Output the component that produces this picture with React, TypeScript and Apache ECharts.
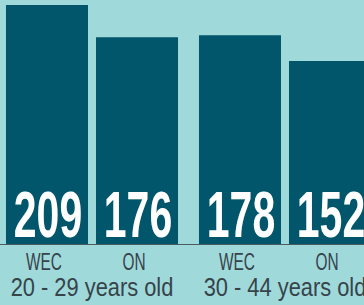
import React, { useEffect, useRef } from "react";
import * as echarts from "echarts";

const groups = ["20 - 29 years old", "30 - 44 years old"];
const subLabels = ["WEC", "ON"];
const wecValues = [209, 178];
const onValues = [176, 152];

const Y_MIN = -34.4;
const Y_MAX = 214;
const BAR_FRAC = 0.425;
const OFFSET_FRAC = 0.2332;
const FONT = '"Liberation Sans", Arial, sans-serif';
const BAR_COLOR = "#01566c";
const TEXT_COLOR = "#36434b";

function makeRender(sub: string, dir: number, withGroup: boolean) {
  return (params: any, api: any) => {
    const cat = api.value(0);
    const v = api.value(1);
    const base = api.coord([cat, Y_MIN]);
    const top = api.coord([cat, v]);
    const band = api.size([1, 0])[0];
    const barW = band * BAR_FRAC;
    const cx = base[0] + dir * OFFSET_FRAC * band;
    const children: any[] = [
      {
        type: "rect",
        shape: { x: cx - barW / 2, y: top[1], width: barW, height: base[1] - top[1] },
        style: { fill: BAR_COLOR },
      },
      {
        type: "text",
        x: cx + 1,
        y: base[1] - 29.4,
        scaleX: 0.64,
        style: {
          text: String(v),
          fill: "#ffffff",
          font: `bold 64px ${FONT}`,
          align: "center",
          verticalAlign: "middle",
        },
      },
      {
        type: "text",
        x: cx - 3,
        y: base[1] + 17.5,
        scaleX: 0.67,
        style: {
          text: sub,
          fill: TEXT_COLOR,
          font: `23px ${FONT}`,
          align: "center",
          verticalAlign: "middle",
        },
      },
    ];
    if (withGroup) {
      children.push({
        type: "text",
        x: base[0],
        y: base[1] + 43,
        scaleX: 0.84,
        style: {
          text: groups[cat],
          fill: TEXT_COLOR,
          font: `26px ${FONT}`,
          align: "center",
          verticalAlign: "middle",
        },
      });
    }
    return { type: "group", children };
  };
}

export default function App() {
  const ref = useRef<HTMLDivElement>(null);
  useEffect(() => {
    document.body.style.margin = "0";
    const chart = echarts.init(ref.current!, undefined, { renderer: "svg" });
    chart.setOption({
      animation: false,
      backgroundColor: "#9fd9da",
      grid: { left: -4.5, width: 386, top: 0, bottom: 61, outerBoundsMode: "none", containLabel: false },
      xAxis: {
        type: "category",
        data: groups,
        axisLine: { show: true, onZero: false, lineStyle: { color: "#4a5a60", width: 1 } },
        axisTick: { show: false },
        axisLabel: { show: false },
        z: 10,
      },
      yAxis: {
        type: "value",
        min: Y_MIN,
        max: Y_MAX,
        show: false,
        splitLine: { show: false },
      },
      series: [
        {
          type: "custom",
          name: subLabels[0],
          data: wecValues.map((v, i) => [i, v]),
          renderItem: makeRender(subLabels[0], -1, true),
          clip: false,
        },
        {
          type: "custom",
          name: subLabels[1],
          data: onValues.map((v, i) => [i, v]),
          renderItem: makeRender(subLabels[1], 1, false),
          clip: false,
        },
      ],
    });
    return () => chart.dispose();
  }, []);
  return <div ref={ref} style={{ width: 364, height: 305 }} />;
}
